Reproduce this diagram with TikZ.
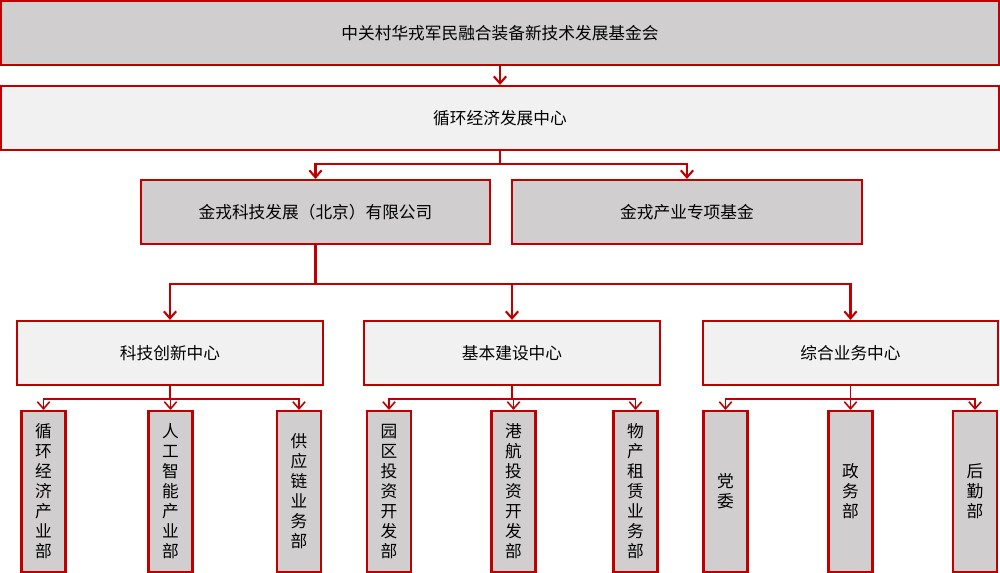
\documentclass[tikz,border=0pt]{standalone}
\usepackage{fontspec}
\setmainfont{Noto Sans CJK SC}
\usetikzlibrary{arrows.meta}
\definecolor{jrred}{HTML}{C00000}
\definecolor{jrgray}{HTML}{D0CECF}
\definecolor{jrlight}{HTML}{F1F1F1}
\begin{document}
\begin{tikzpicture}[x=0.02cm,y=-0.02cm,
    font=\fontsize{9.5pt}{11.4pt}\selectfont,
    box/.style={draw=jrred,line width=1.2pt,inner sep=0pt,align=center},
    leaf/.style={box,fill=jrgray,minimum width=0.88cm,minimum height=3.22cm},
    link/.style={draw=jrred,line width=1.2pt,-{Straight Barb[length=4pt,width=7pt]}},
    sublink/.style={link,line width=0.9pt}]
\useasboundingbox (0,0) rectangle (1000,573);
% top levels
\node[box,fill=jrgray,minimum width=19.96cm,minimum height=1.28cm] (fund) at (500,33) {中关村华戎军民融合装备新技术发展基金会};
\node[box,fill=jrlight,minimum width=19.96cm,minimum height=1.28cm] (circ) at (500,118) {循环经济发展中心};
\node[box,fill=jrgray,minimum width=6.98cm,minimum height=1.28cm] (jrkj) at (315.5,212) {金戎科技发展（北京）有限公司};
\node[box,fill=jrgray,minimum width=7cm,minimum height=1.28cm] (jrcy) at (687,212) {金戎产业专项基金};
\draw[link] (fund.south) -- (circ.north);
\draw[link] (circ.south) -- ++(0,13) -| (jrkj.north);
\draw[link] (circ.south) -- ++(0,13) -| (jrcy.north);
% centers
\node[box,fill=jrlight,minimum width=6.12cm,minimum height=1.28cm] (kjcx) at (170,353) {科技创新中心};
\node[box,fill=jrlight,minimum width=5.92cm,minimum height=1.28cm] (jbjs) at (512,353) {基本建设中心};
\node[box,fill=jrlight,minimum width=5.9cm,minimum height=1.28cm] (zhyw) at (850.5,353) {综合业务中心};
\foreach \c in {kjcx,jbjs,zhyw}
    \draw[link] (jrkj.south) -- ++(0,39) -| (\c.north);
% departments
\node[leaf] (xhjj) at (43.5,491.5) {循\\环\\经\\济\\产\\业\\部};
\node[leaf] (rgzn) at (170.5,491.5) {人\\工\\智\\能\\产\\业\\部};
\node[leaf] (gyl) at (299,491.5) {供\\应\\链\\业\\务\\部};
\node[leaf] (yqtz) at (389,491.5) {园\\区\\投\\资\\开\\发\\部};
\node[leaf] (ghtz) at (513.5,491.5) {港\\航\\投\\资\\开\\发\\部};
\node[leaf] (wczl) at (635.5,491.5) {物\\产\\租\\赁\\业\\务\\部};
\node[leaf] (dw) at (725.5,491.5) {党\\委};
\node[leaf] (zwb) at (850.5,491.5) {政\\务\\部};
\node[leaf] (hqb) at (975,491.5) {后\\勤\\部};
\foreach \p/\d in {kjcx/xhjj,kjcx/rgzn,kjcx/gyl,jbjs/yqtz,jbjs/ghtz,jbjs/wczl,zhyw/dw,zhyw/zwb,zhyw/hqb}
    \draw[sublink] (\p.south) -- ++(0,13) -| (\d.north);
\end{tikzpicture}
\end{document}
